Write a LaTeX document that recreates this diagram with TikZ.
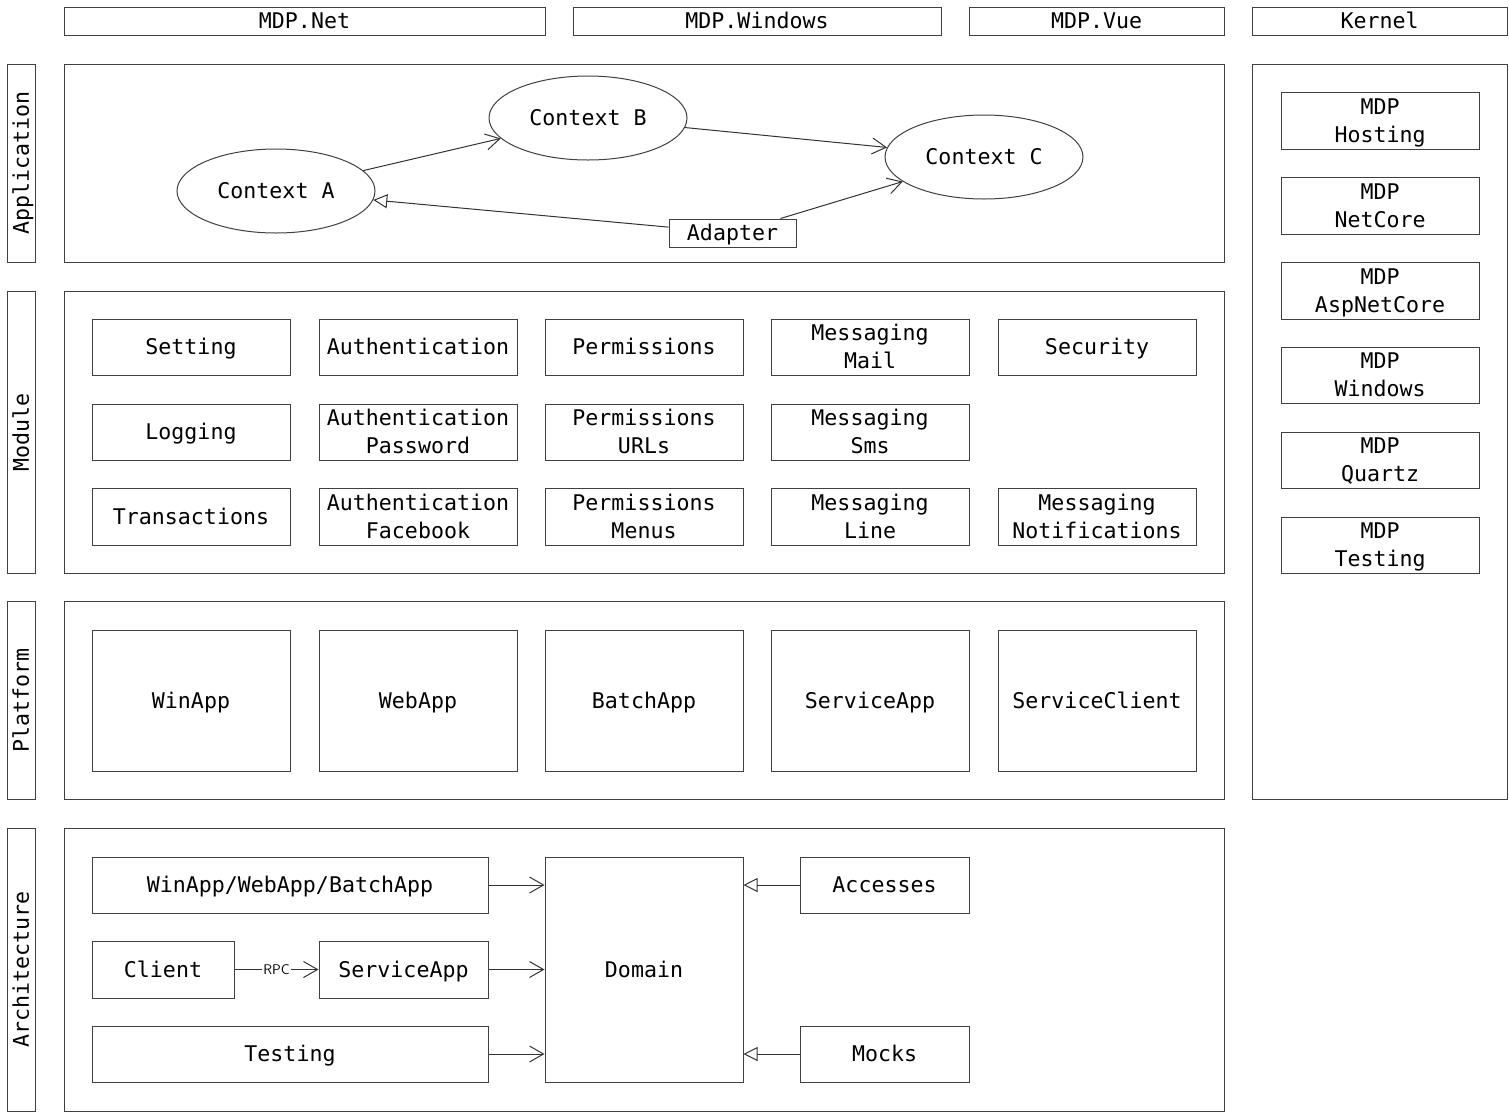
\documentclass[tikz,border=0pt]{standalone}
\usepackage{fontspec}
\setmonofont{DejaVu Sans Mono}
\usetikzlibrary{shapes.geometric,arrows.meta}
\newcommand\cs{\rule[-6pt]{0pt}{27.8pt}}
\newcommand\rbox[6]{\node[box,minimum width={#4-#2},minimum height={#5-#3}] (#1) at ({(#2+#4)/2},{(#3+#5)/2}) {\cs #6};}
\newcommand\sidebox[6]{\node[box,rotate=90,minimum width={#5-#3},minimum height={#4-#2}] (#1) at ({(#2+#4)/2},{(#3+#5)/2}) {\cs #6};}
\begin{document}
\begin{tikzpicture}[x=1pt,y=-1pt,
  box/.style={draw=black!75,line width=1pt,inner sep=0pt,align=center,font=\ttfamily\fontsize{21.6}{28}\selectfont,fill=white},
  ctx/.style={ellipse,draw=black!75,line width=1pt,inner sep=0pt,minimum width=198pt,minimum height=84pt,font=\ttfamily\fontsize{21.6}{28}\selectfont},
  vee/.style={-{Straight Barb[length=14pt,width=16pt]},line width=1pt,draw=black!80},
  tri/.style={-{Triangle[open,length=14pt,width=14pt]},line width=1pt,draw=black!80}]
\useasboundingbox (0,0) rectangle (1509,1112);
% headers
\rbox{hnet}{64}{7}{545}{35}{MDP.Net}
\rbox{hwin}{573}{7}{941}{35}{MDP.Windows}
\rbox{hvue}{969}{7}{1224}{35}{MDP.Vue}
\rbox{hker}{1252}{7}{1507}{35}{Kernel}
% side labels
\sidebox{lapp}{7}{64}{35}{262}{Application}
\sidebox{lmod}{7}{291}{35}{573}{Module}
\sidebox{lplat}{7}{601}{35}{799}{Platform}
\sidebox{larch}{7}{828}{35}{1111}{Architecture}
% panels
\rbox{papp}{64}{64}{1224}{262}{}
\rbox{pmod}{64}{291}{1224}{573}{}
\rbox{pplat}{64}{601}{1224}{799}{}
\rbox{parch}{64}{828}{1224}{1111}{}
\rbox{pker}{1252}{64}{1507}{799}{}
% kernel items
\rbox{k1}{1281}{92}{1479}{149}{MDP\\\cs Hosting}
\rbox{k2}{1281}{177}{1479}{234}{MDP\\\cs NetCore}
\rbox{k3}{1281}{262}{1479}{319}{MDP\\\cs AspNetCore}
\rbox{k4}{1281}{347}{1479}{403}{MDP\\\cs Windows}
\rbox{k5}{1281}{432}{1479}{488}{MDP\\\cs Quartz}
\rbox{k6}{1281}{517}{1479}{573}{MDP\\\cs Testing}
% application
\node[ctx] (A) at (276,191) {\cs Context A};
\node[ctx] (B) at (588,118) {\cs Context B};
\node[ctx] (C) at (984,157) {\cs Context C};
\rbox{ad}{669}{219}{796}{247}{Adapter}
\draw[vee] (A) -- (B);
\draw[vee] (B) -- (C);
\draw[vee] (ad) -- (C);
\draw[tri] (ad) -- (A);
% module
\rbox{m11}{92}{319}{290}{375}{Setting}
\rbox{m12}{319}{319}{517}{375}{Authentication}
\rbox{m13}{545}{319}{743}{375}{Permissions}
\rbox{m14}{771}{319}{969}{375}{Messaging\\\cs Mail}
\rbox{m15}{998}{319}{1196}{375}{Security}
\rbox{m21}{92}{404}{290}{460}{Logging}
\rbox{m22}{319}{404}{517}{460}{Authentication\\\cs Password}
\rbox{m23}{545}{404}{743}{460}{Permissions\\\cs URLs}
\rbox{m24}{771}{404}{969}{460}{Messaging\\\cs Sms}
\rbox{m31}{92}{488}{290}{545}{Transactions}
\rbox{m32}{319}{488}{517}{545}{Authentication\\\cs Facebook}
\rbox{m33}{545}{488}{743}{545}{Permissions\\\cs Menus}
\rbox{m34}{771}{488}{969}{545}{Messaging\\\cs Line}
\rbox{m35}{998}{488}{1196}{545}{Messaging\\\cs Notifications}
% platform
\rbox{p1}{92}{630}{290}{771}{WinApp}
\rbox{p2}{319}{630}{517}{771}{WebApp}
\rbox{p3}{545}{630}{743}{771}{BatchApp}
\rbox{p4}{771}{630}{969}{771}{ServiceApp}
\rbox{p5}{998}{630}{1196}{771}{ServiceClient}
% architecture
\rbox{awin}{92}{857}{488}{913}{WinApp/WebApp/BatchApp}
\rbox{acli}{92}{941}{234}{998}{Client}
\rbox{asvc}{319}{941}{488}{998}{ServiceApp}
\rbox{atest}{92}{1026}{488}{1082}{Testing}
\rbox{adom}{545}{857}{743}{1082}{Domain}
\rbox{aacc}{800}{857}{969}{913}{Accesses}
\rbox{amock}{800}{1026}{969}{1082}{Mocks}
\draw[vee] (awin.east) -- (adom.west |- awin.east);
\draw[vee] (asvc.east) -- (adom.west |- asvc.east);
\draw[vee] (atest.east) -- (adom.west |- atest.east);
\draw[vee] (acli.east) -- node[fill=white,inner sep=1pt,font=\sffamily\fontsize{14}{16}\selectfont]{RPC} (asvc.west);
\draw[tri] (aacc.west) -- (adom.east |- aacc.west);
\draw[tri] (amock.west) -- (adom.east |- amock.west);
\end{tikzpicture}
\end{document}
